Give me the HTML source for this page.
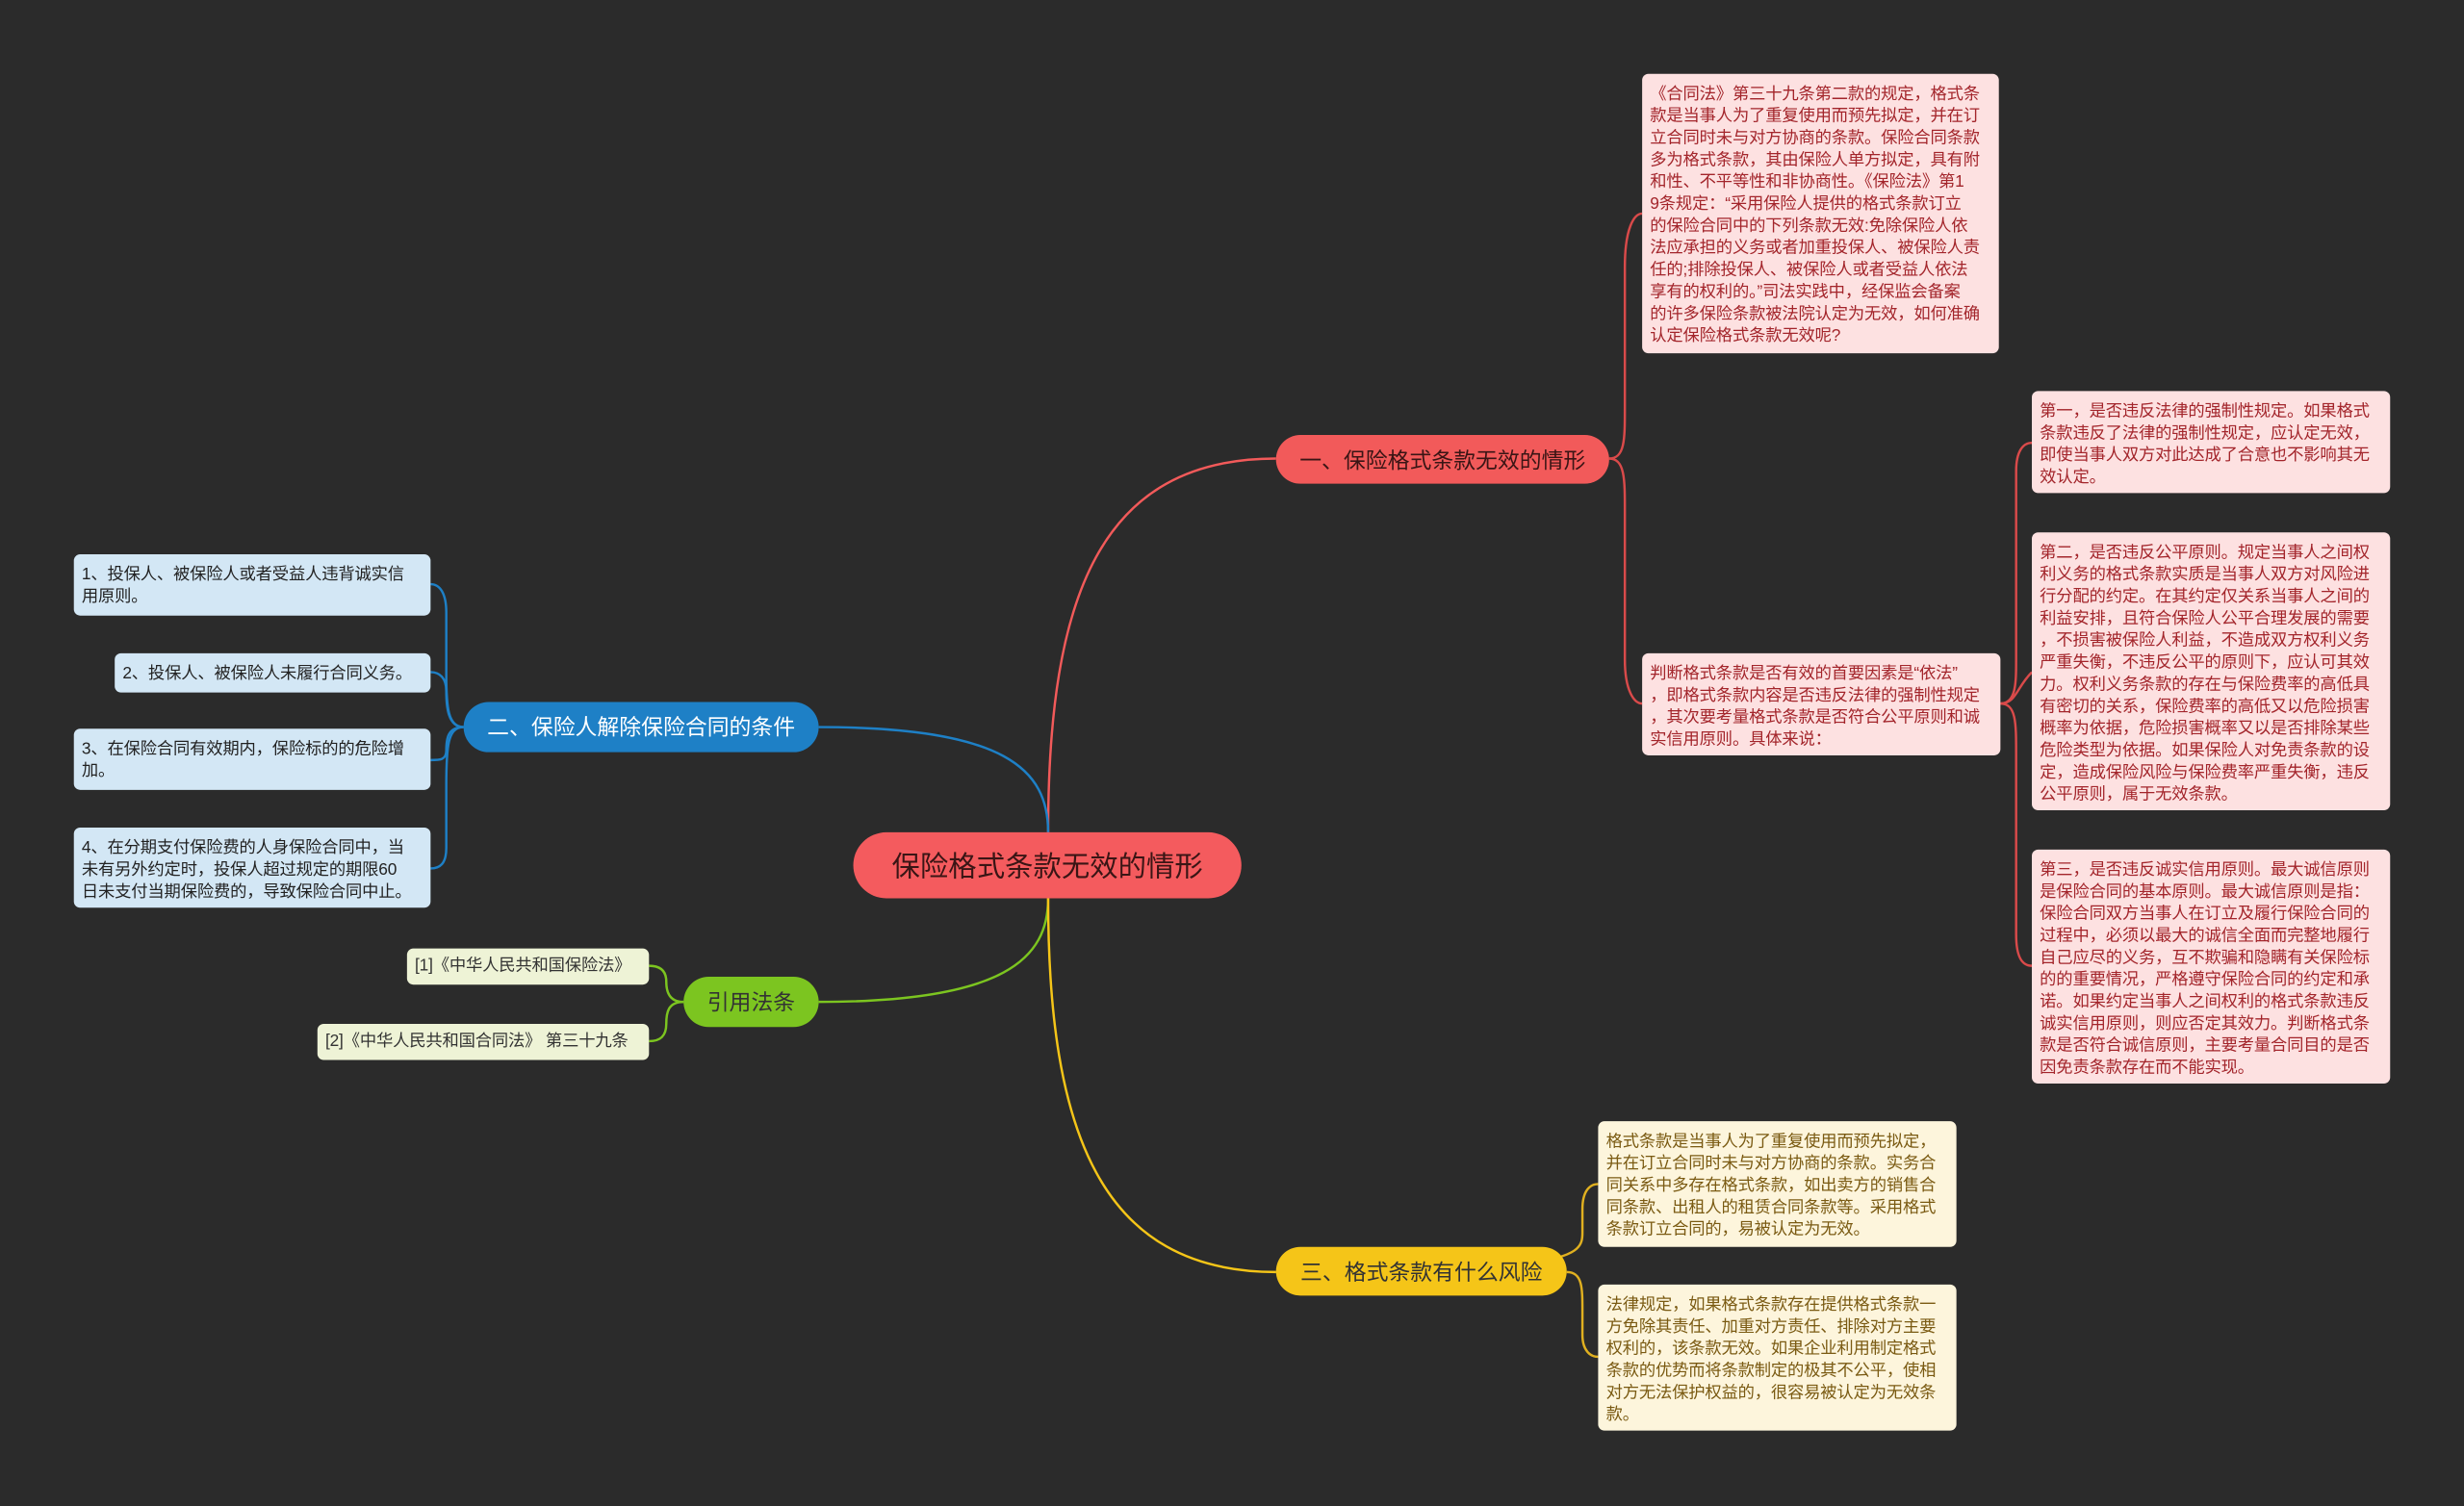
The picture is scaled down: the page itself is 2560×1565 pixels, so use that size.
<!DOCTYPE html>
<html><head><meta charset="utf-8"><style>
html,body{margin:0;padding:0;background:#2b2b2b;width:2560px;height:1565px;overflow:hidden}
#c{position:absolute;left:0;top:0;width:1568px;height:959px;transform:scale(1.63265,1.6319);transform-origin:0 0;font-family:"Liberation Sans","Noto Sans CJK SC",sans-serif}
.n{position:absolute;box-sizing:border-box;white-space:nowrap}
.p{border-radius:16px;display:flex;align-items:center;justify-content:center}
.l{border-radius:4px;font-size:10.6px;line-height:14px;padding:6px 5px 4px 5px;letter-spacing:-0.1px}
.r{background:#fde1e1;color:#a3252b}
.b{background:#d3e7f5;color:#222}
.g{background:#eef3d6;color:#333}
.y{background:#fdf5dc;color:#7a5a12}
</style></head><body><div id="c">
<svg width="1568" height="959" style="position:absolute;left:0;top:0" fill="none" stroke-width="1.5">
<path d="M667 530 C667 380 700 292 812 292" stroke="#f25a5a"/>
<path d="M667 530 C667 490 640 463 521 463" stroke="#1e80c6"/>
<path d="M667 572 C667 610 640 638 521 638" stroke="#7cc520"/>
<path d="M667 572 C667 720 700 810 812 810" stroke="#f5c518"/>
<path d="M1024 292 C1034 292 1034 280 1034 260 L1034 170 C1034 145 1040 136 1045 136" stroke="#d94a4a"/>
<path d="M1024 292 C1034 292 1034 305 1034 325 L1034 420 C1034 440 1040 448 1045 448" stroke="#d94a4a"/>
<path d="M1273 448 C1283 448 1283 435 1283 420 L1283 300 C1283 288 1287 282 1293 282" stroke="#d94a4a"/>
<path d="M1273 448 C1283 448 1283 438 1293 428" stroke="#d94a4a"/>
<path d="M1273 448 C1283 448 1283 460 1283 480 L1283 595 C1283 610 1287 615 1293 615" stroke="#d94a4a"/>
<path d="M295 463 C285 463 284 450 284 430 L284 390 C284 378 280 372 274 372" stroke="#1e80c6"/>
<path d="M295 463 C285 463 284 450 284 440 C284 432 280 428 274 428" stroke="#1e80c6"/>
<path d="M295 463 C285 463 284 470 284 478 C284 484 280 484 274 484" stroke="#1e80c6"/>
<path d="M295 463 C285 463 284 475 284 500 L284 540 C284 550 280 553 274 553" stroke="#1e80c6"/>
<path d="M435 638 C425 638 424 630 424 625 C424 618 420 615 413 615" stroke="#7cc520"/>
<path d="M435 638 C425 638 424 645 424 652 C424 660 420 663 413 663" stroke="#7cc520"/>
<path d="M812 810 C1002 810 1007 800 1007 785 L1007 770 C1007 758 1012 754 1017 754" stroke="#e0b020"/>
<path d="M997 810 C1007 810 1007 820 1007 835 L1007 850 C1007 860 1012 864 1017 864" stroke="#e0b020"/>
</svg>
<div class="n p" style="left:543px;top:530px;width:247px;height:42px;border-radius:21px;background:#f45b5e;color:#3a1515;font-size:18px">保险格式条款无效的情形</div>
<div class="n p" style="left:812px;top:277px;width:212px;height:31px;background:#f25a5a;color:#3a1515;font-size:14px">一、保险格式条款无效的情形</div>
<div class="n p" style="left:295px;top:447px;width:226px;height:32px;background:#1e80c6;color:#fff;font-size:14px">二、保险人解除保险合同的条件</div>
<div class="n p" style="left:435px;top:622px;width:86px;height:32px;background:#7cc520;color:#333;font-size:14px">引用法条</div>
<div class="n p" style="left:812px;top:794px;width:185px;height:31px;background:#f5c518;color:#333;font-size:14px">三、格式条款有什么风险</div>

<div class="n l r" style="left:1045px;top:47px;width:227px;height:178px">《合同法》第三十九条第二款的规定，格式条<br>款是当事人为了重复使用而预先拟定，并在订<br>立合同时未与对方协商的条款。保险合同条款<br>多为格式条款，其由保险人单方拟定，具有附<br>和性、不平等性和非协商性。《保险法》第1<br>9条规定：“采用保险人提供的格式条款订立<br>的保险合同中的下列条款无效:免除保险人依<br>法应承担的义务或者加重投保人、被保险人责<br>任的;排除投保人、被保险人或者受益人依法<br>享有的权利的。”司法实践中，经保监会备案<br>的许多保险条款被法院认定为无效，如何准确<br>认定保险格式条款无效呢?</div>
<div class="n l r" style="left:1045px;top:416px;width:228px;height:65px">判断格式条款是否有效的首要因素是“依法”<br>，即格式条款内容是否违反法律的强制性规定<br>，其次要考量格式条款是否符合公平原则和诚<br>实信用原则。具体来说：</div>
<div class="n l r" style="left:1293px;top:249px;width:228px;height:65px">第一，是否违反法律的强制性规定。如果格式<br>条款违反了法律的强制性规定，应认定无效，<br>即使当事人双方对此达成了合意也不影响其无<br>效认定。</div>
<div class="n l r" style="left:1293px;top:339px;width:228px;height:177px">第二，是否违反公平原则。规定当事人之间权<br>利义务的格式条款实质是当事人双方对风险进<br>行分配的约定。在其约定仅关系当事人之间的<br>利益安排，且符合保险人公平合理发展的需要<br>，不损害被保险人利益，不造成双方权利义务<br>严重失衡，不违反公平的原则下，应认可其效<br>力。权利义务条款的存在与保险费率的高低具<br>有密切的关系，保险费率的高低又以危险损害<br>概率为依据，危险损害概率又以是否排除某些<br>危险类型为依据。如果保险人对免责条款的设<br>定，造成保险风险与保险费率严重失衡，违反<br>公平原则，属于无效条款。</div>
<div class="n l r" style="left:1293px;top:541px;width:228px;height:149px">第三，是否违反诚实信用原则。最大诚信原则<br>是保险合同的基本原则。最大诚信原则是指：<br>保险合同双方当事人在订立及履行保险合同的<br>过程中，必须以最大的诚信全面而完整地履行<br>自己应尽的义务，互不欺骗和隐瞒有关保险标<br>的的重要情况，严格遵守保险合同的约定和承<br>诺。如果约定当事人之间权利的格式条款违反<br>诚实信用原则，则应否定其效力。判断格式条<br>款是否符合诚信原则，主要考量合同目的是否<br>因免责条款存在而不能实现。</div>

<div class="n l b" style="left:47px;top:353px;width:227px;height:39px">1、投保人、被保险人或者受益人违背诚实信<br>用原则。</div>
<div class="n l b" style="left:73px;top:416px;width:201px;height:25px">2、投保人、被保险人未履行合同义务。</div>
<div class="n l b" style="left:47px;top:464px;width:227px;height:39px">3、在保险合同有效期内，保险标的的危险增<br>加。</div>
<div class="n l b" style="left:47px;top:527px;width:227px;height:51px">4、在分期支付保险费的人身保险合同中，当<br>未有另外约定时，投保人超过规定的期限60<br>日未支付当期保险费的，导致保险合同中止。</div>

<div class="n l g" style="left:259px;top:604px;width:154px;height:23px;line-height:15px;padding-top:4px">[1]《中华人民共和国保险法》</div>
<div class="n l g" style="left:202px;top:652px;width:211px;height:23px;line-height:15px;padding-top:4px">[2]《中华人民共和国合同法》 第三十九条</div>

<div class="n l y" style="left:1017px;top:714px;width:228px;height:80px">格式条款是当事人为了重复使用而预先拟定，<br>并在订立合同时未与对方协商的条款。实务合<br>同关系中多存在格式条款，如出卖方的销售合<br>同条款、出租人的租赁合同条款等。采用格式<br>条款订立合同的，易被认定为无效。</div>
<div class="n l y" style="left:1017px;top:818px;width:228px;height:93px">法律规定，如果格式条款存在提供格式条款一<br>方免除其责任、加重对方责任、排除对方主要<br>权利的，该条款无效。如果企业利用制定格式<br>条款的优势而将条款制定的极其不公平，使相<br>对方无法保护权益的，很容易被认定为无效条<br>款。</div>
</div></body></html>
